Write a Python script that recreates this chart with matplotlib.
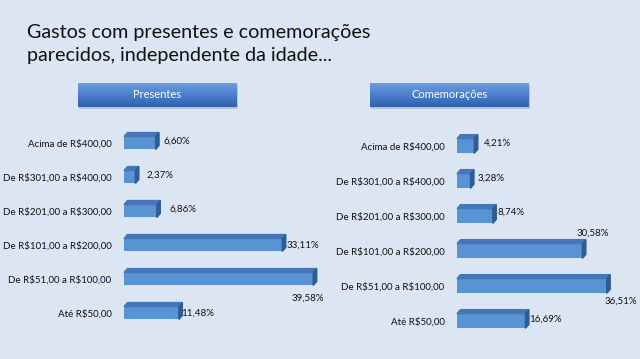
import matplotlib.pyplot as plt
import numpy as np
from matplotlib.patches import Polygon

plt.rcParams['font.family'] = ['Lato', 'DejaVu Sans']
plt.rcParams['text.parse_math'] = False

categorias = ['Acima de R$400,00', 'De R$301,00 a R$400,00', 'De R$201,00 a R$300,00',
              'De R$101,00 a R$200,00', 'De R$51,00 a R$100,00', 'Até R$50,00']
presentes = [6.60, 2.37, 6.86, 33.11, 39.58, 11.48]
comemoracoes = [4.21, 3.28, 8.74, 30.58, 36.51, 16.69]
titulos = ['Presentes', 'Comemorações']
titulo = 'Gastos com presentes e comemorações\nparecidos, independente da idade...'

BG = '#dce6f2'
FRONT = '#5894d4'
TOP = '#4577b8'
SIDE = '#2f5d93'

W, H = 640, 359
fig = plt.figure(figsize=(W / 100, H / 100), dpi=100, facecolor=BG)

fig.text(27 / W, 1 - 44 / H, titulo, fontsize=14.2, color='#111111', va='center',
         ha='left', linespacing=1.45)


def px_axes(x0, y0, x1, y1):
    return fig.add_axes([x0 / W, 1 - y1 / H, (x1 - x0) / W, (y1 - y0) / H])


def header(x0, y0, x1, y1, txt):
    sh = px_axes(x0 + 1, y0 + 2, x1 + 1, y1 + 2)
    sh.set_axis_off()
    sh.add_patch(plt.Rectangle((0, 0), 1, 1, color='#b9c3cf', transform=sh.transAxes))
    hx = px_axes(x0, y0, x1, y1)
    grad = np.linspace(0, 1, 50).reshape(-1, 1)
    hx.imshow(grad, aspect='auto', cmap=plt.matplotlib.colors.LinearSegmentedColormap.from_list(
        'h', ['#6a9de0', '#4a7fcc', '#2f63ad']), extent=(0, 1, 0, 1))
    hx.set_axis_off()
    hx.text(0.5, 0.5, txt, color='white', fontsize=8, ha='center', va='center',
            transform=hx.transAxes)


def panel(ax, vals, xmax, bar_h, offsets):
    y = np.arange(len(vals))
    ax.set_xlim(0, xmax)
    ax.set_ylim(len(vals) - 0.5, -0.5)
    ax.set_facecolor('none')
    ax.barh(y, vals, height=bar_h, color=FRONT, edgecolor='none', zorder=2)
    for s in ax.spines.values():
        s.set_visible(False)
    ax.set_xticks([])
    ax.set_yticks(y)
    ax.set_yticklabels(categorias, fontsize=7, color='#111111')
    ax.tick_params(axis='y', length=0, pad=9)
    dx, dy = 3.5, 4
    for yi, v in zip(y, vals):
        (xl, yt) = ax.transData.transform((0, yi - bar_h / 2))
        (xr, yb) = ax.transData.transform((v, yi + bar_h / 2))
        top = Polygon([(xl, yt), (xr, yt), (xr + dx, yt + dy), (xl + dx, yt + dy)],
                      closed=True, color=TOP, transform=None, zorder=3)
        side = Polygon([(xr, yt), (xr + dx, yt + dy), (xr + dx, yb + dy), (xr, yb)],
                       closed=True, color=SIDE, transform=None, zorder=3)
        fig.add_artist(top)
        fig.add_artist(side)
    for yi, v, (ox, oy, ha) in zip(y, vals, offsets):
        ax.annotate(f'{v:.2f}%'.replace('.', ','), (v, yi), xytext=(ox, oy),
                    textcoords='offset points', fontsize=7, color='#111111',
                    ha=ha, va='center', zorder=4)


header(78, 83, 237, 107, titulos[0])
header(370, 83, 529, 107, titulos[1])

ax1 = px_axes(124, 126, 124 + 4.78 * 45, 330)
ax2 = px_axes(457, 128.5, 457 + 4.1 * 45, 338.5)
fig.canvas.draw()

off1 = [(5.5, 1, 'left'), (8, 1, 'left'), (9, 1, 'left'), (3, 0, 'left'),
        (8, -14, 'right'), (2, 0, 'left')]
off2 = [(7, 2, 'left'), (5, 2, 'left'), (3, 3, 'left'), (19, 13, 'right'),
        (22, -11, 'right'), (3, 1, 'left')]
panel(ax1, presentes, 45, 0.38, off1)
panel(ax2, comemoracoes, 45, 0.42, off2)

fig.savefig('out.png', dpi=100, facecolor=BG)
